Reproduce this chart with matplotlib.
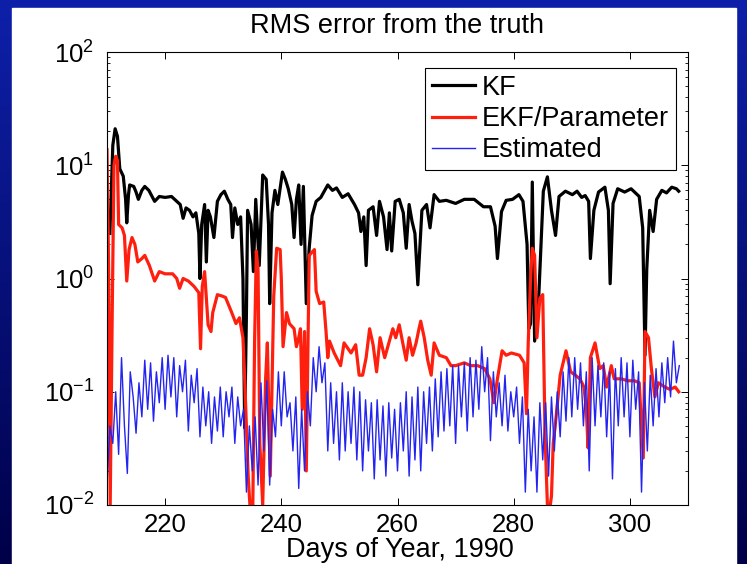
import numpy as np
import matplotlib
matplotlib.use('Agg')
import matplotlib.pyplot as plt
from matplotlib.patches import Rectangle
from matplotlib.ticker import LogLocator, NullLocator

plt.rcParams['font.family'] = ['Liberation Sans', 'DejaVu Sans']
plt.rcParams['mathtext.default'] = 'regular'

# KF  (day, rms)
kf_day = [210.5, 211.0, 211.4, 211.8, 212.2, 212.8, 213.2, 213.4, 213.7, 213.9,
          214.6, 215.0, 215.4, 216.0, 216.5, 217.2, 218.2, 219.0, 220.0, 221.1,
          222.0, 222.6, 223.1, 223.6, 224.2, 224.8, 225.3, 225.8, 226.0, 226.3,
          226.8, 227.1, 227.4, 227.8, 228.4, 229.0, 229.6, 230.2, 230.8, 231.3,
          231.6, 232.0, 232.5, 233.0, 233.4, 233.7, 234.0, 234.2, 234.8, 235.2,
          235.6, 236.2, 236.8, 237.4, 237.8, 238.0, 238.4, 238.9, 239.4, 240.2,
          240.7, 241.2, 241.8, 242.2, 242.6, 243.0, 243.4, 243.8, 244.3, 244.8,
          245.3, 246.0, 246.8, 248.0, 248.8, 249.5, 250.5, 251.5, 252.6, 253.3,
          253.7, 254.2, 254.6, 255.0, 255.8, 256.4, 256.9, 257.6, 258.2, 258.6,
          259.0, 259.6, 260.3, 261.0, 261.5, 262.0, 262.5, 263.0, 263.5, 264.2,
          265.0, 265.6, 266.3, 267.2, 268.4, 270.0, 271.5, 273.2, 274.8, 276.0,
          276.8, 277.2, 277.9, 278.7, 279.8, 280.9, 281.6, 282.3, 282.6, 282.9,
          283.2, 283.6, 284.2, 284.6, 285.1, 285.8, 286.5, 287.2, 287.8, 288.9,
          290.1, 290.9, 291.7, 292.3, 292.9, 293.2, 293.8, 294.6, 295.7, 296.3,
          296.6, 297.1, 297.9, 299.1, 300.2, 301.6, 302.2, 302.6, 302.9, 303.4,
          304.0, 304.6, 305.5, 306.3, 307.2, 308.0, 308.4]
kf_rms = [2.5, 15, 21, 18, 9.3, 8.0, 5.0, 3.1, 5.5, 6.7,
          6.5, 5.8, 5.0, 6.0, 6.5, 6.0, 4.8, 5.3, 5.2, 5.3,
          4.8, 4.5, 3.4, 4.2, 4.0, 3.5, 3.8, 2.5, 1.0, 3.0,
          4.5, 1.4, 4.0, 3.5, 2.3, 4.8, 5.5, 5.9, 5.0, 4.5,
          2.3, 4.2, 3.0, 3.5, 1.0, 0.048, 0.5, 4.0, 3.0, 1.15,
          5.0, 1.3, 8.2, 7.5, 3.0, 0.6, 3.8, 6.0, 4.5, 8.7,
          7.5, 6.2, 4.5, 2.3, 5.0, 6.7, 2.0, 6.5, 0.6, 1.85,
          3.6, 4.8, 5.2, 6.7, 6.0, 6.3, 5.2, 5.6, 4.5, 3.8,
          2.6, 3.5, 1.3, 4.0, 4.3, 2.4, 4.8, 3.5, 1.8, 3.8,
          1.75, 4.8, 5.0, 3.8, 1.85, 4.5, 3.2, 2.5, 0.88, 4.0,
          4.5, 2.8, 5.5, 4.8, 4.9, 4.6, 5.0, 5.0, 4.3, 4.3,
          2.9, 1.5, 3.9, 4.9, 5.0, 5.5, 4.8, 2.0, 0.36, 0.4,
          7.1, 0.28, 0.51, 1.5, 5.9, 7.9, 4.0, 2.4, 5.3, 5.9,
          5.5, 5.9, 5.2, 5.4, 4.8, 1.5, 4.0, 5.8, 6.4, 4.0,
          0.9, 4.6, 6.2, 5.8, 6.2, 5.3, 2.8, 0.21, 1.2, 4.0,
          2.6, 5.0, 6.0, 5.7, 6.4, 6.2, 5.9]

# EKF/Parameter  (day, rms)
ekf_day = [210.0, 210.3, 210.55, 210.9, 211.2, 211.5, 211.8, 212.0, 212.6, 213.0,
           213.4, 213.8, 214.3, 214.8, 215.3, 216.0, 216.5, 217.3, 218.2, 219.0,
           220.0, 221.3, 222.0, 222.5, 223.1, 224.0, 225.0, 225.8, 226.1, 226.4,
           226.8, 227.4, 227.9, 228.2, 229.0, 229.8, 230.4, 231.4, 232.2, 232.8,
           233.4, 233.7, 234.3, 234.6, 235.1, 235.4, 235.7, 236.0, 236.3, 236.8,
           237.3, 237.6, 238.1, 238.7, 239.2, 239.8, 240.0, 240.3, 240.9, 241.4,
           242.2, 242.6, 243.0, 243.3, 243.6, 244.0, 244.3, 244.6, 244.8, 245.7,
           246.0, 246.6, 247.3, 247.7, 248.0, 248.3, 249.1, 250.2, 250.8, 252.0,
           252.8, 253.4, 254.0, 254.6, 255.2, 255.8, 256.4, 257.0, 257.8, 258.6,
           259.2, 259.7, 260.3, 260.9, 261.5, 262.0, 262.6, 263.2, 263.7, 264.0,
           264.6, 265.2, 265.8, 266.3, 267.2, 268.4, 269.2, 270.0, 271.5, 272.6,
           273.8, 275.0, 275.9, 276.6, 277.2, 278.0, 278.7, 279.6, 281.0, 281.8,
           282.2, 282.5, 282.9, 283.2, 283.6, 284.0, 284.5, 285.0, 285.4, 285.8,
           286.3, 286.5, 286.8, 287.3, 288.0, 289.0, 289.8, 290.6, 291.4, 292.1,
           292.5, 292.8, 293.2, 294.0, 294.8, 295.4, 296.0, 296.8, 297.3, 298.5,
           299.6, 300.8, 301.6, 302.3, 302.6, 303.2, 303.7, 304.3, 304.9, 306.0,
           306.9, 307.8, 308.4]
ekf_rms = [13.7, 1.0, 0.01, 0.5, 10, 12.0, 11, 3.0, 2.8, 2.4,
           0.95, 1.8, 2.3, 2.0, 1.4, 1.5, 1.6, 1.3, 0.95, 1.15,
           1.1, 1.1, 1.0, 0.82, 1.0, 0.95, 0.85, 0.75, 0.24, 0.85,
           1.15, 0.39, 0.34, 0.5, 0.72, 0.7, 0.68, 0.51, 0.4, 0.45,
           0.3, 0.13, 0.018, 0.01, 0.01, 0.27, 1.75, 1.2, 0.035, 0.01,
           0.13, 0.27, 0.018, 0.7, 1.85, 1.8, 1.0, 0.25, 0.5, 0.4,
           0.36, 0.25, 0.3, 0.36, 0.07, 0.34, 0.02, 0.3, 1.6, 1.8,
           0.77, 0.6, 0.62, 0.34, 0.2, 0.28, 0.22, 0.17, 0.27, 0.22,
           0.26, 0.14, 0.14, 0.2, 0.36, 0.26, 0.15, 0.3, 0.2, 0.28,
           0.36, 0.3, 0.39, 0.27, 0.19, 0.3, 0.21, 0.27, 0.36, 0.42,
           0.3, 0.19, 0.14, 0.27, 0.21, 0.2, 0.17, 0.17, 0.18, 0.17,
           0.17, 0.16, 0.13, 0.08, 0.13, 0.23, 0.21, 0.22, 0.21, 0.18,
           0.064, 0.27, 1.0, 1.85, 1.6, 0.3, 0.67, 0.72, 0.04, 0.01,
           0.01, 0.012, 0.035, 0.06, 0.14, 0.23, 0.15, 0.14, 0.13, 0.11,
           0.07, 0.032, 0.2, 0.27, 0.16, 0.17, 0.11, 0.17, 0.13, 0.13,
           0.125, 0.125, 0.12, 0.026, 0.34, 0.3, 0.16, 0.09, 0.12, 0.11,
           0.105, 0.11, 0.1]

# Estimated, every half day starting at day 210
est_rms = [0.015, 0.05, 0.035, 0.10, 0.028, 0.20, 0.05, 0.019, 0.15, 0.09,
           0.043, 0.12, 0.06, 0.19, 0.07, 0.18, 0.055, 0.15, 0.08, 0.20,
           0.07, 0.21, 0.09, 0.20, 0.06, 0.17, 0.10, 0.19, 0.045, 0.14,
           0.08, 0.16, 0.04, 0.11, 0.05, 0.10, 0.035, 0.09, 0.045, 0.11,
           0.04, 0.10, 0.06, 0.11, 0.035, 0.09, 0.05, 0.07, 0.013, 0.05,
           0.02, 0.06, 0.015, 0.12, 0.03, 0.125, 0.015, 0.07, 0.04, 0.15,
           0.05, 0.15, 0.06, 0.08, 0.03, 0.09, 0.014, 0.07, 0.02, 0.10,
           0.05, 0.20, 0.10, 0.25, 0.12, 0.18, 0.03, 0.12, 0.035, 0.10,
           0.025, 0.12, 0.03, 0.10, 0.035, 0.11, 0.025, 0.10, 0.02, 0.085,
           0.03, 0.08, 0.017, 0.085, 0.025, 0.075, 0.018, 0.08, 0.026, 0.07,
           0.02, 0.08, 0.03, 0.10, 0.018, 0.09, 0.025, 0.11, 0.02, 0.10,
           0.035, 0.11, 0.03, 0.13, 0.04, 0.15, 0.045, 0.16, 0.05, 0.17,
           0.035, 0.17, 0.06, 0.18, 0.045, 0.20, 0.06, 0.19, 0.07, 0.25,
           0.10, 0.20, 0.037, 0.15, 0.06, 0.12, 0.05, 0.14, 0.045, 0.10,
           0.06, 0.11, 0.035, 0.09, 0.013, 0.07, 0.02, 0.06, 0.013, 0.08,
           0.025, 0.08, 0.018, 0.09, 0.03, 0.10, 0.04, 0.15, 0.055, 0.20,
           0.06, 0.20, 0.07, 0.18, 0.05, 0.15, 0.02, 0.20, 0.05, 0.17,
           0.06, 0.18, 0.04, 0.15, 0.017, 0.16, 0.05, 0.20, 0.06, 0.18,
           0.04, 0.19, 0.07, 0.15, 0.013, 0.12, 0.03, 0.14, 0.05, 0.16,
           0.06, 0.18, 0.08, 0.20, 0.09, 0.28, 0.12, 0.17]
est_day = 210.0 + 0.5 * np.arange(len(est_rms))

W, H = 747, 564
fig = plt.figure(figsize=(W / 100, H / 100), dpi=100)

# slide background: blue gradient with white panel
bg = fig.add_axes([0, 0, 1, 1])
top = np.array([14, 32, 170]) / 255
bot = np.array([0, 0, 72]) / 255
t = np.linspace(0, 1, 256)[:, None, None]
grad = top * (1 - t) + bot * t
bg.imshow(grad, aspect='auto', extent=[0, 1, 0, 1])
bg.add_patch(Rectangle((12 / W, 0), (736 - 12) / W, 1 - 8 / H,
                       transform=bg.transAxes, color='white'))
bg.set_xlim(0, 1)
bg.set_ylim(0, 1)
bg.axis('off')

ax = fig.add_axes([107 / W, (H - 505) / H, (688 - 107) / W, (505 - 52) / H])
ax.plot(kf_day, kf_rms, color='black', lw=2.3, label='KF')
ax.plot(ekf_day, ekf_rms, color='#ff1f0f', lw=2.3, label='EKF/Parameter')
ax.plot(est_day, est_rms, color='#2424f0', lw=1.0, label='Estimated')

ax.set_yscale('log')
ax.set_ylim(1e-2, 1e2)
ax.set_xlim(210, 310)
ax.set_xticks([220, 240, 260, 280, 300])
ax.xaxis.set_minor_locator(NullLocator())
ax.yaxis.set_major_locator(LogLocator(base=10, numticks=10))
ax.yaxis.set_minor_locator(LogLocator(base=10, subs=np.arange(2, 10), numticks=20))
ax.tick_params(which='both', direction='in', top=True, right=True, labelsize=18.5)
ax.tick_params(which='major', length=5, width=0.7, pad=6)
ax.tick_params(which='minor', length=2.5, width=0.6)
ax.tick_params(axis='y', pad=9)
for s in ax.spines.values():
    s.set_linewidth(0.8)

fig.text(397 / W, 1 - 33 / H, 'RMS error from the truth', fontsize=19.5,
         ha='center', va='baseline')
fig.text(400 / W, 1 - 557 / H, 'Days of Year, 1990', fontsize=19.5,
         ha='center', va='baseline')

leg = ax.legend(loc='upper right', bbox_to_anchor=(0.979, 0.965), borderaxespad=0,
                fontsize=19.5, fancybox=False, framealpha=1, edgecolor='black',
                handlelength=1.6, handletextpad=0.25, labelspacing=0.2,
                borderpad=0.25)
leg.get_frame().set_linewidth(0.8)

fig.savefig('out.png', dpi=100)
